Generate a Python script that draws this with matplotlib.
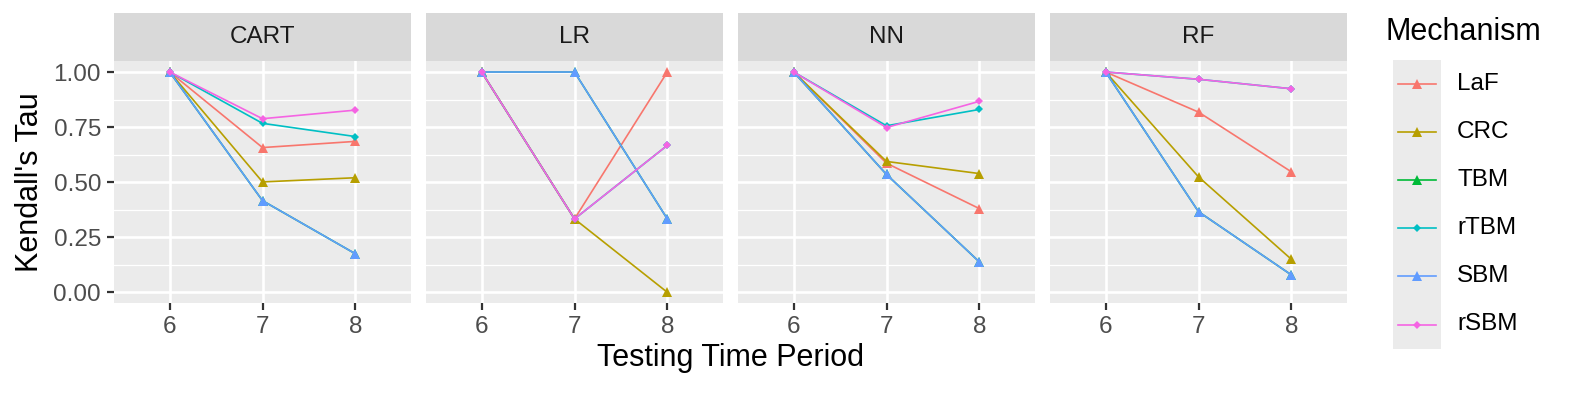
import matplotlib
matplotlib.use("Agg")
import matplotlib.pyplot as plt
from matplotlib.lines import Line2D
from matplotlib.patches import Rectangle

plt.rcParams['font.family'] = ['Liberation Sans', 'DejaVu Sans']

periods = [6, 7, 8]
models = ["CART", "LR", "NN", "RF"]
mechanisms = ["LaF", "CRC", "TBM", "rTBM", "SBM", "rSBM"]

laf = {"CART": [1.0, 0.657, 0.685], "LR": [1.0, 0.333, 1.0],
       "NN": [1.0, 0.586, 0.38], "RF": [1.0, 0.818, 0.547]}
crc = {"CART": [1.0, 0.501, 0.52], "LR": [1.0, 0.333, 0.0],
       "NN": [1.0, 0.594, 0.539], "RF": [1.0, 0.524, 0.15]}
tbm = {"CART": [1.0, 0.416, 0.175], "LR": [1.0, 1.0, 0.333],
       "NN": [1.0, 0.535, 0.138], "RF": [1.0, 0.366, 0.079]}
rtbm = {"CART": [1.0, 0.767, 0.707], "LR": [1.0, 0.333, 0.667],
        "NN": [1.0, 0.756, 0.83], "RF": [1.0, 0.967, 0.924]}
sbm = {"CART": [1.0, 0.416, 0.175], "LR": [1.0, 1.0, 0.333],
       "NN": [1.0, 0.535, 0.138], "RF": [1.0, 0.366, 0.079]}
rsbm = {"CART": [1.0, 0.788, 0.827], "LR": [1.0, 0.333, 0.667],
        "NN": [1.0, 0.748, 0.867], "RF": [1.0, 0.967, 0.924]}
series = [laf, crc, tbm, rtbm, sbm, rsbm]

colors = ["#F8766D", "#B79F00", "#00BA38", "#00BFC4", "#619CFF", "#F564E3"]
markers = ["^", "^", "^", "D", "^", "D"]
msizes = [7, 7, 7, 3.6, 7, 3.6]

W, H = 1578, 393
fig = plt.figure(figsize=(W / 100, H / 100), dpi=100)

lefts = [114, 426, 738, 1050]
pw = 297
top, bottom = 61, 303.3
strip_top = 13.3

for i, m in enumerate(models):
    ax = fig.add_axes([lefts[i] / W, 1 - bottom / H, pw / W, (bottom - top) / H])
    ax.set_facecolor("#EBEBEB")
    for s in ax.spines.values():
        s.set_visible(False)
    ax.set_xlim(5.4, 8.6)
    ax.set_ylim(-0.05, 1.05)
    for y in [0.125, 0.375, 0.625, 0.875]:
        ax.axhline(y, color="white", lw=0.9, zorder=0)
    for y in [0, 0.25, 0.5, 0.75, 1.0]:
        ax.axhline(y, color="white", lw=1.9, zorder=0)
    for x in periods:
        ax.axvline(x, color="white", lw=1.9, zorder=0)
    for k, data in enumerate(series):
        ax.plot(periods, data[m], color=colors[k], lw=1.2, marker=markers[k],
                markersize=msizes[k], markeredgewidth=0, zorder=2 + k)
    ax.set_xticks(periods)
    ax.set_xticklabels([str(p) for p in periods])
    ax.tick_params(axis="x", length=5.3, width=1.6, color="#333333",
                   labelsize=17.5, labelcolor="#4D4D4D", pad=4)
    ax.set_yticks([0, 0.25, 0.5, 0.75, 1.0])
    if i == 0:
        ax.set_yticklabels(["0.00", "0.25", "0.50", "0.75", "1.00"])
        ax.tick_params(axis="y", length=5.3, width=1.6, color="#333333",
                       labelsize=17.5, labelcolor="#4D4D4D", pad=4)
    else:
        ax.tick_params(axis="y", length=0, labelleft=False)
    # strip
    fig.patches.append(Rectangle((lefts[i] / W, 1 - top / H), pw / W,
                                 (top - strip_top) / H, transform=fig.transFigure,
                                 facecolor="#D9D9D9", edgecolor="none"))
    fig.text((lefts[i] + pw / 2) / W, 1 - (top + strip_top) / 2 / H, m,
             ha="center", va="center", fontsize=17.5, color="#1A1A1A")

fig.text(30 / W, 1 - 182 / H, "Kendall's Tau", rotation=90, ha="center",
         va="center", fontsize=22, color="black")
fig.text((114 + 1347) / 2 / W, 1 - 358 / H, "Testing Time Period", ha="center",
         va="center", fontsize=22, color="black")

# legend
fig.text(1385 / W, 1 - 32 / H, "Mechanism", ha="left", va="center",
         fontsize=22, color="black")
fig.patches.append(Rectangle((1393 / W, 1 - 349 / H), 48 / W, 289 / H,
                             transform=fig.transFigure, facecolor="#EBEBEB",
                             edgecolor="none"))
for k, name in enumerate(mechanisms):
    yc = 1 - (84 + 48.1 * k) / H
    fig.add_artist(Line2D([1398 / W, 1436 / W], [yc, yc], color=colors[k], lw=1.2,
                          transform=fig.transFigure))
    fig.add_artist(Line2D([1417 / W], [yc], color=colors[k], marker=markers[k],
                          markersize=msizes[k], markeredgewidth=0,
                          transform=fig.transFigure))
    fig.text(1457 / W, yc, name, ha="left", va="center", fontsize=17.5, color="black")

fig.savefig("out.png", dpi=100)
